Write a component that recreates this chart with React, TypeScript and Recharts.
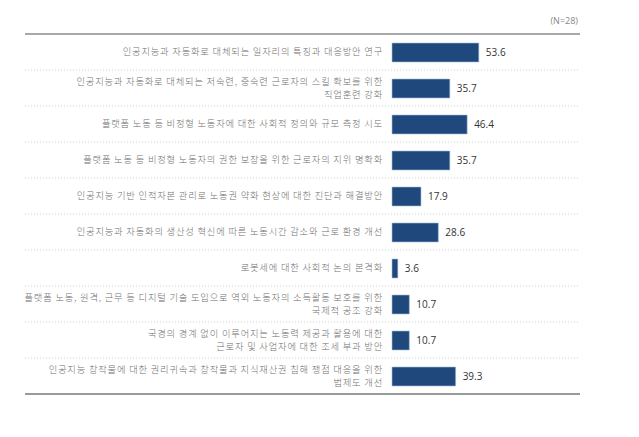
import React from "react";
import { BarChart, Bar, XAxis, YAxis, LabelList } from "recharts";

const categories: string[] = [
  "인공지능과 자동화로 대체되는 일자리의 특징과 대응방안 연구",
  "인공지능과 자동화로 대체되는 저숙련, 중숙련 근로자의 스킬 확보를 위한\n직업훈련 강화",
  "플랫폼 노동 등 비정형 노동자에 대한 사회적 정의와 규모 측정 시도",
  "플랫폼 노동 등 비정형 노동자의 권한 보장을 위한 근로자의 지위 명확화",
  "인공지능 기반 인적자본 관리로 노동권 약화 현상에 대한 진단과 해결방안",
  "인공지능과 자동화의 생산성 혁신에 따른 노동시간 감소와 근로 환경 개선",
  "로봇세에 대한 사회적 논의 본격화",
  "플랫폼 노동, 원격, 근무 등 디지털 기술 도입으로 역외 노동자의 소득활동 보호를 위한\n국제적 공조 강화",
  "국경의 경계 없이 이루어지는 노동력 제공과 활용에 대한\n근로자 및 사업자에 대한 조세 부과 방안",
  "인공지능 창작물에 대한 권리귀속과 창작물과 지식재산권 침해 쟁점 대응을 위한\n법제도 개선",
];
const values: number[] = [53.6, 35.7, 46.4, 35.7, 17.9, 28.6, 3.6, 10.7, 10.7, 39.3];
const sampleNote = "(N=28)";

const data = categories.map((c, i) => ({ name: c, value: values[i] }));

const FONT = "'Noto Sans CJK KR', 'Noto Sans', sans-serif";
const LINE_LEFT = 25;
const LINE_RIGHT = 580;
const HALF_BAND = 18;

const CategoryTick = (props: any) => {
  const { x, y, payload, index } = props;
  const lines: string[] = String(payload.value).split("\n");
  const lh = 12.5;
  const startY = y - ((lines.length - 1) * lh) / 2;
  const last = index === categories.length - 1;
  return (
    <g>
      {index === 0 && (
        <line x1={LINE_LEFT} x2={LINE_RIGHT} y1={y - HALF_BAND} y2={y - HALF_BAND} stroke="#8c8c8c" strokeWidth={1.5} />
      )}
      {last ? (
        <line x1={LINE_LEFT} x2={LINE_RIGHT} y1={y + HALF_BAND} y2={y + HALF_BAND} stroke="#9a9a9a" strokeWidth={2} />
      ) : (
        <line x1={LINE_LEFT} x2={LINE_RIGHT} y1={y + HALF_BAND} y2={y + HALF_BAND} stroke="#cfcfcf" strokeWidth={1} strokeDasharray="1 2" />
      )}
      <text textAnchor="end" fontSize={9.3} fill="#707070" fontFamily={FONT} fontWeight={300} letterSpacing={0.8}>
        {lines.map((l, i) => (
          <tspan key={i} x={x - 1} y={startY + i * lh} dy="0.35em">
            {l}
          </tspan>
        ))}
      </text>
    </g>
  );
};

export default function App() {
  return (
    <div style={{ position: "absolute", left: 0, top: 0, width: 639, height: 437, background: "#fff" }}>
      <BarChart
        width={639}
        height={437}
        data={data}
        layout="vertical"
        margin={{ top: 34, right: 85, bottom: 43, left: 0 }}
        barCategoryGap={8}
      >
        <XAxis type="number" domain={[0, 100]} hide />
        <YAxis
          type="category"
          dataKey="name"
          width={392}
          axisLine={false}
          tickLine={false}
          tick={<CategoryTick />}
          interval={0}
        />
        <Bar dataKey="value" fill="#1f497d" stroke="#a9bdd6" strokeWidth={0.6} barSize={19} isAnimationActive={false}>
          <LabelList dataKey="value" position="right" offset={7} fontSize={10} fill="#333" fontFamily="'Open Sans', sans-serif" formatter={(v: any) => Number(v).toFixed(1)} />
        </Bar>
        <text x={578} y={24} textAnchor="end" fontSize={9} fill="#888" fontFamily="'Open Sans', sans-serif">
          {sampleNote}
        </text>
      </BarChart>
    </div>
  );
}
